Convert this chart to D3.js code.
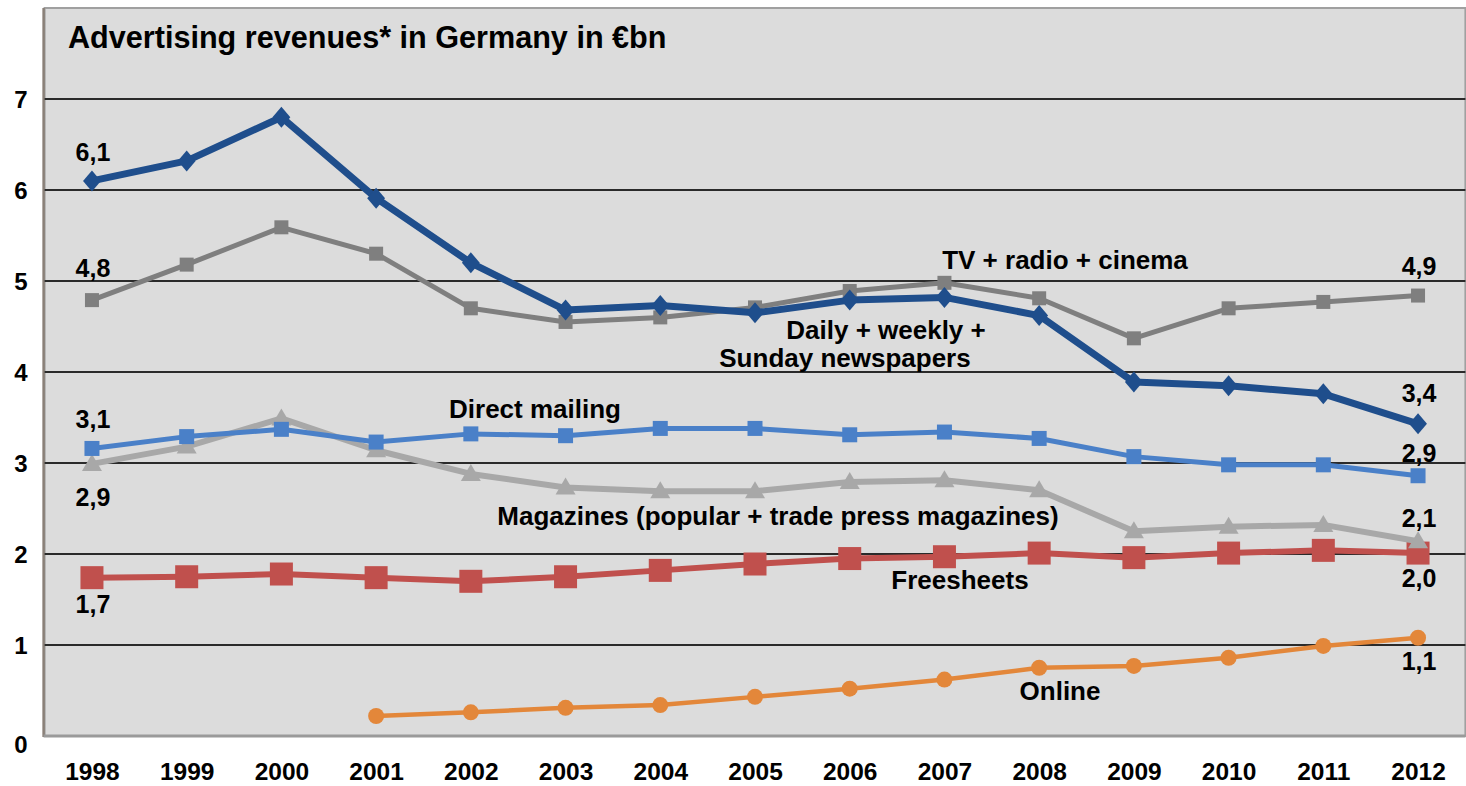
<!DOCTYPE html>
<html><head><meta charset="utf-8">
<script src="https://cdn.jsdelivr.net/npm/d3@7"></script>
<style>body{margin:0;background:#fff;}svg{display:block;font-family:"Liberation Sans",Arial,sans-serif;font-weight:bold;}</style>
</head><body><svg id="c" width="1466" height="786"></svg>
<script>
const years = ["1998","1999","2000","2001","2002","2003","2004","2005","2006","2007","2008","2009","2010","2011","2012"];
const yTicks = [0,1,2,3,4,5,6,7];
const newspapers = [6.10,6.32,6.80,5.91,5.20,4.68,4.73,4.65,4.79,4.82,4.62,3.89,3.85,3.76,3.43];
const tvRadioCinema = [4.79,5.18,5.59,5.30,4.70,4.55,4.60,4.71,4.89,4.98,4.81,4.37,4.70,4.77,4.84];
const directMailing = [3.16,3.29,3.37,3.23,3.32,3.30,3.38,3.38,3.31,3.34,3.27,3.07,2.98,2.98,2.86];
const magazines = [2.99,3.18,3.49,3.14,2.88,2.73,2.69,2.69,2.79,2.81,2.70,2.25,2.30,2.32,2.14];
const freesheets = [1.74,1.75,1.78,1.74,1.70,1.75,1.82,1.89,1.95,1.97,2.01,1.96,2.01,2.04,2.01];
const online = [null,null,null,0.22,0.26,0.31,0.34,0.43,0.52,0.62,0.75,0.77,0.86,0.99,1.08];
const startLabels = ["6,1","4,8","3,1","2,9","1,7"];
const endLabels = ["3,4","4,9","2,9","2,1","2,0","1,1"];

const svg = d3.select("#c");
const L = 44.6, R = 1465.4, T = 8, B = 736;
const x = d3.scalePoint().domain(years).range([L, R]).padding(0.5);
const y = d3.scaleLinear().domain([0, 8]).range([B, T]);
const FONT = '"Liberation Sans",Arial,sans-serif';

// plot background
svg.append("rect").attr("x", L).attr("y", T).attr("width", R - L).attr("height", B - T)
  .attr("fill", "#dcdcdc").attr("stroke", "#a0a0a0").attr("stroke-width", 2);
svg.append("line").attr("x1", L - 1).attr("x2", L - 1).attr("y1", T).attr("y2", B + 1)
  .attr("stroke", "#8a8078").attr("stroke-width", 2.5);
svg.append("line").attr("x1", L - 1).attr("x2", R).attr("y1", B).attr("y2", B)
  .attr("stroke", "#9a9a9a").attr("stroke-width", 3);

// gridlines
svg.append("g").selectAll("line").data(yTicks.filter(d => d > 0)).join("line")
  .attr("x1", L).attr("x2", R).attr("y1", d => y(d)).attr("y2", d => y(d))
  .attr("stroke", "#2a2a2a").attr("stroke-width", 2);

// y axis labels
const yAxis = d3.axisLeft(y).tickValues(yTicks).tickSize(0).tickPadding(0).tickFormat(d3.format("d"));
const ya = svg.append("g").attr("transform", `translate(21,0)`).call(yAxis);
ya.select(".domain").remove();
ya.selectAll("text").attr("font-size", 24).attr("font-weight", "bold").attr("fill", "#000")
  .attr("font-family", FONT).attr("dy", d => d === 0 ? "0.7em" : "0.35em").attr("text-anchor", "middle");

// x axis labels
const xAxis = d3.axisBottom(x).tickSize(0).tickPadding(0);
const xa = svg.append("g").attr("transform", `translate(0,${B + 27})`).call(xAxis);
xa.select(".domain").remove();
xa.selectAll("text").attr("font-size", 24.5).attr("font-weight", "bold").attr("fill", "#000")
  .attr("font-family", FONT);

// title
svg.append("text").attr("x", 68).attr("y", 48).attr("font-size", 30.6).attr("fill", "#000")
  .text("Advertising revenues* in Germany in €bn");

const line = d3.line().defined(d => d.v != null).x(d => x(d.year)).y(d => y(d.v));
const series = [
  {vals: newspapers, color: "#1f4e8c", w: 7, marker: "diamond", size: 21},
  {vals: tvRadioCinema, color: "#7f7f7f", w: 5, marker: "square", size: 14},
  {vals: directMailing, color: "#4a80c8", w: 5, marker: "square", size: 15},
  {vals: magazines, color: "#a8a8a8", w: 6, marker: "triangle", size: 20},
  {vals: freesheets, color: "#c0504d", w: 6, marker: "square", size: 23},
  {vals: online, color: "#e3873a", w: 4.5, marker: "circle", size: 16},
];
const drawOrder = [4, 5, 3, 2, 1, 0];
drawOrder.forEach(i => {
  const s = series[i];
  const pts = years.map((yr, j) => ({year: yr, v: s.vals[j]})).filter(d => d.v != null);
  const g = svg.append("g");
  g.append("path").datum(pts).attr("d", line).attr("fill", "none")
    .attr("stroke", s.color).attr("stroke-width", s.w).attr("stroke-linejoin", "round");
  const m = g.selectAll(".m").data(pts).join("g")
    .attr("transform", d => `translate(${x(d.year)},${y(d.v)})`);
  const h = s.size / 2;
  if (s.marker === "square") m.append("rect").attr("x", -h).attr("y", -h).attr("width", s.size).attr("height", s.size).attr("fill", s.color);
  if (s.marker === "circle") m.append("circle").attr("r", h).attr("fill", s.color);
  if (s.marker === "diamond") m.append("path").attr("d", `M0,${-h}L${h * 0.85},0L0,${h}L${-h * 0.85},0Z`).attr("fill", s.color);
  if (s.marker === "triangle") m.append("path").attr("d", `M0,${-h}L${h},${h * 0.7}L${-h},${h * 0.7}Z`).attr("fill", s.color);
});

// value labels (offsets from the point, centre of text)
const fs = 25;
const valLabels = [
  {t: startLabels[0], yr: "1998", v: newspapers[0], dy: -29},
  {t: startLabels[1], yr: "1998", v: tvRadioCinema[0], dy: -32},
  {t: startLabels[2], yr: "1998", v: directMailing[0], dy: -29},
  {t: startLabels[3], yr: "1998", v: magazines[0], dy: 33},
  {t: startLabels[4], yr: "1998", v: freesheets[0], dy: 27},
  {t: endLabels[0], yr: "2012", v: newspapers[14], dy: -31},
  {t: endLabels[1], yr: "2012", v: tvRadioCinema[14], dy: -29},
  {t: endLabels[2], yr: "2012", v: directMailing[14], dy: -22},
  {t: endLabels[3], yr: "2012", v: magazines[14], dy: -23},
  {t: endLabels[4], yr: "2012", v: freesheets[14], dy: 25},
  {t: endLabels[5], yr: "2012", v: online[14], dy: 24},
];
svg.append("g").selectAll("text").data(valLabels).join("text")
  .attr("x", d => x(d.yr) + 1).attr("y", d => y(d.v) + d.dy).attr("dy", "0.35em").attr("text-anchor", "middle")
  .attr("font-size", fs).attr("fill", "#000").text(d => d.t);

// series labels
const sfs = 26;
const seriesLabels = [
  {lines: ["TV + radio + cinema"], cx: [1065], cy: [260]},
  {lines: ["Daily + weekly +", "Sunday newspapers"], cx: [886, 845], cy: [330, 358]},
  {lines: ["Direct mailing"], cx: [535], cy: [409]},
  {lines: ["Magazines (popular + trade press magazines)"], cx: [778], cy: [516]},
  {lines: ["Freesheets"], cx: [960], cy: [580]},
  {lines: ["Online"], cx: [1060], cy: [691]},
];
seriesLabels.forEach(sl => {
  sl.lines.forEach((ln, k) => {
    svg.append("text").attr("x", sl.cx[k]).attr("y", sl.cy[k]).attr("dy", "0.35em")
      .attr("text-anchor", "middle").attr("font-size", sfs).attr("fill", "#000").text(ln);
  });
});
</script></body></html>
